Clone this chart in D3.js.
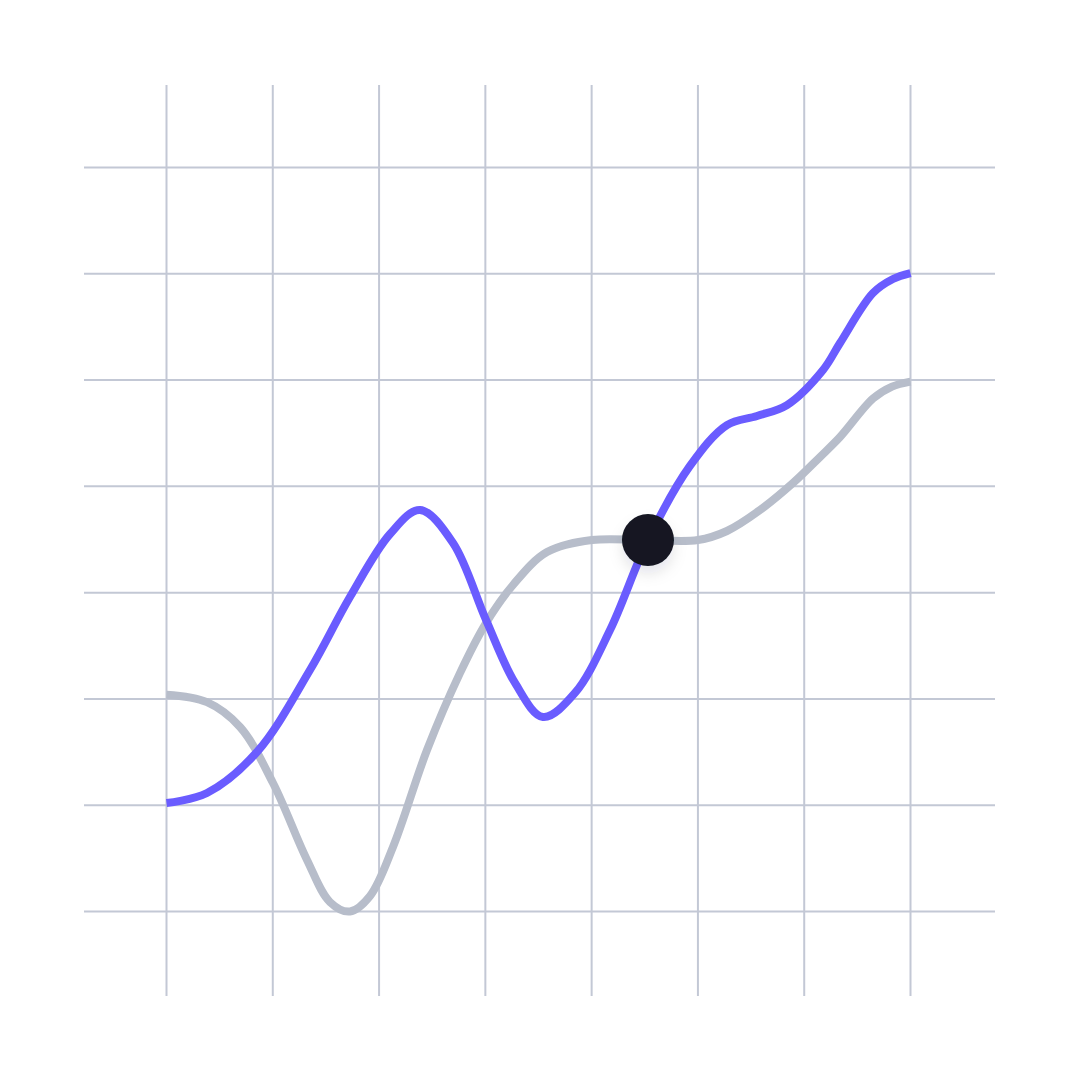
<!DOCTYPE html>
<html>
<head>
<meta charset="utf-8">
<script src="https://cdn.jsdelivr.net/npm/d3@7"></script>
<style>
  html, body { margin: 0; padding: 0; background: #ffffff; }
  svg { display: block; }
</style>
</head>
<body>
<svg id="chart" width="1080" height="1080"></svg>
<script>
// Grid ticks (x and y positions in data units)
const xTicks = [0, 1, 2, 3, 4, 5, 6, 7];
const yTicks = [0, 1, 2, 3, 4, 5, 6, 7];

// Gray series (x, y)
const grayX = [0, 0.381, 0.692, 1.002, 1.322, 1.538, 1.726, 1.915, 2.131, 2.451, 2.761, 3.006, 3.260, 3.580, 4.003, 4.502, 5.000, 5.273, 5.584, 5.894, 6.148, 6.337, 6.647, 6.826, 7.000];
const grayY = [2.04, 1.97, 1.736, 1.209, 0.485, 0.089, 0.0, 0.146, 0.607, 1.519, 2.243, 2.714, 3.072, 3.382, 3.495, 3.495, 3.495, 3.580, 3.777, 4.031, 4.276, 4.464, 4.826, 4.939, 4.986];

// Purple series (x, y)
const purpleX = [0, 0.381, 0.851, 1.350, 1.726, 2.103, 2.385, 2.696, 3.006, 3.279, 3.542, 3.843, 4.173, 4.530, 4.925, 5.273, 5.556, 5.838, 6.177, 6.337, 6.647, 6.835, 7.000];
const purpleY = [1.02, 1.115, 1.501, 2.272, 2.959, 3.552, 3.778, 3.467, 2.743, 2.150, 1.830, 2.056, 2.648, 3.495, 4.192, 4.577, 4.662, 4.765, 5.095, 5.349, 5.819, 5.951, 6.007];

// Highlighted point
const markerX = [4.53];
const markerY = [3.495];

const svg = d3.select("#chart");

const xScale = d3.scaleLinear().domain([0, 7]).range([166.5, 910.5]);
const yScale = d3.scaleLinear().domain([0, 7]).range([911.5, 167.5]);

const gridColor = "#c3c8d5";

const defs = svg.append("defs");
const shadow = defs.append("filter").attr("id", "shadow")
  .attr("x", "-60%").attr("y", "-60%").attr("width", "220%").attr("height", "220%");
shadow.append("feDropShadow").attr("dx", 0).attr("dy", 8).attr("stdDeviation", 7)
  .attr("flood-color", "#1c2333").attr("flood-opacity", 0.10);

// Grid
const grid = svg.append("g");
grid.selectAll("line.v").data(xTicks).join("line")
  .attr("class", "v")
  .attr("x1", d => xScale(d)).attr("x2", d => xScale(d))
  .attr("y1", 85).attr("y2", 996)
  .attr("stroke", gridColor).attr("stroke-width", 2);
grid.selectAll("line.h").data(yTicks).join("line")
  .attr("class", "h")
  .attr("y1", d => yScale(d)).attr("y2", d => yScale(d))
  .attr("x1", 84).attr("x2", 995)
  .attr("stroke", gridColor).attr("stroke-width", 2);

const lineGen = d3.line()
  .x(d => xScale(d[0]))
  .y(d => yScale(d[1]))
  .curve(d3.curveCatmullRom.alpha(0.5));

const grayData = grayX.map((v, i) => [v, grayY[i]]);
const purpleData = purpleX.map((v, i) => [v, purpleY[i]]);

svg.append("path")
  .attr("d", lineGen(grayData))
  .attr("fill", "none")
  .attr("stroke", "#b7bdca")
  .attr("stroke-width", 8)
  .attr("stroke-linejoin", "round");

svg.append("path")
  .attr("d", lineGen(purpleData))
  .attr("fill", "none")
  .attr("stroke", "#6a5cff")
  .attr("stroke-width", 8)
  .attr("stroke-linejoin", "round");

svg.selectAll("circle.marker").data(markerX.map((v, i) => [v, markerY[i]])).join("circle")
  .attr("class", "marker")
  .attr("cx", d => xScale(d[0]))
  .attr("cy", d => yScale(d[1]))
  .attr("r", 26)
  .attr("fill", "#131722")
  .attr("filter", "url(#shadow)");
</script>
</body>
</html>
